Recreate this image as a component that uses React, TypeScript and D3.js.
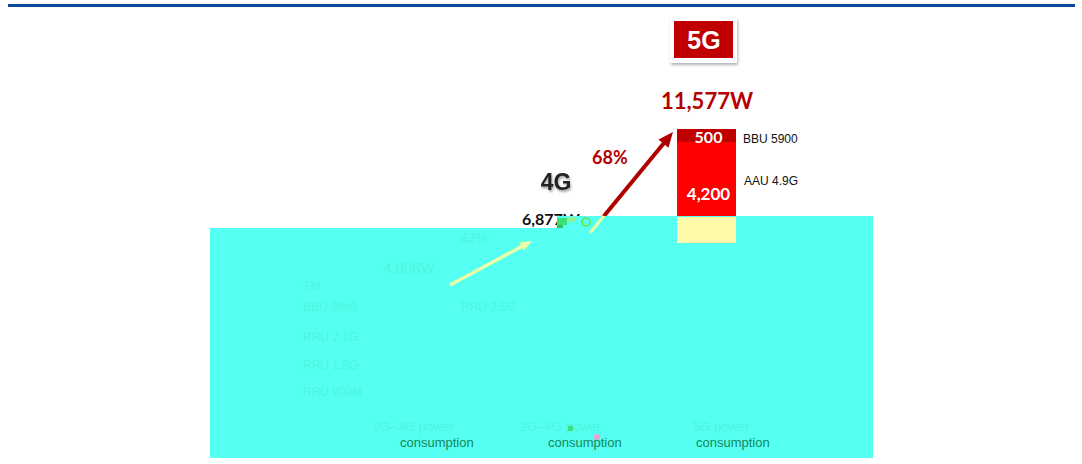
import React from 'react';
import * as d3 from 'd3';

// ---- data ----
const generations = ['2G–3G', '2G–4G', '5G'];
const powerLabels = ['2G–3G power', '2G–4G power', '5G power'];
const totals = [4808, 6877, 11577];
const growth = ['43%', '68%'];
const fiveGSegmentNames = ['BBU 5900', 'AAU 4.9G'];
const fiveGSegmentValues = [500, 4200];
const legacyComponents = ['TM', 'BBU 39x0', 'RRU 2.6G', 'RRU 2.1G', 'RRU 1.8G', 'RRU 900M'];

const W = 1082;
const H = 464;
const fmt = d3.format(',');

export default function App() {
  const x = d3.scalePoint<string>().domain(generations).range([437, 733]);
  const base = totals[1];
  const cum = [base, base + fiveGSegmentValues[1], base + fiveGSegmentValues[1] + fiveGSegmentValues[0]];
  const y = d3.scaleLinear().domain(cum).range([217, 142, 129]);
  const barX = (x('5G') as number) - 56;
  const barW = 59;

  const aauTop = y(base + fiveGSegmentValues[1]);
  const bbuTop = y(base + fiveGSegmentValues[1] + fiveGSegmentValues[0]);
  const baseY = y(base);

  const cyan = '#55fff2';
  const faint = '#4bf6de';
  const paleArrow = '#e8ffa6';
  const darkRed = '#b40000';

  const arrowHead = (x1: number, y1: number, x2: number, y2: number, len: number, wid: number) => {
    const a = Math.atan2(y2 - y1, x2 - x1);
    const bx = x2 - len * Math.cos(a);
    const by = y2 - len * Math.sin(a);
    const px = -Math.sin(a) * wid / 2;
    const py = Math.cos(a) * wid / 2;
    return `M${x2},${y2}L${bx + px},${by + py}L${bx - px},${by - py}Z`;
  };

  const line = d3.line();
  const rA: [number, number][] = [[590, 233], [673, 132]];
  const redLineEnd: [number, number] = [664, 143];
  const pA: [number, number][] = [[450, 285], [532, 241]];
  const cutT = (216 - rA[0][1]) / (rA[1][1] - rA[0][1]);
  const cutX = rA[0][0] + cutT * (rA[1][0] - rA[0][0]);

  const numFont = 'Lato, "Open Sans", sans-serif';
  const sans = '"Liberation Sans", Arial, sans-serif';

  const powerX = [373, 520, 693];
  const consX = [400, 548, 696];
  const legacyPos: [number, number][] = [[303, 290], [303, 311], [461, 311], [303, 341], [303, 369], [303, 396]];

  const overlay = 'M210,228 L557,228 L557,216 L873,216 L873,458 L210,458 Z';

  return (
    <svg width={W} height={H} style={{ position: 'absolute', left: 0, top: 0, background: '#fff' }}>
      <defs>
        <filter id="sh" x="-20%" y="-20%" width="140%" height="150%">
          <feDropShadow dx="1" dy="2" stdDeviation="1.5" floodColor="#000" floodOpacity="0.3" />
        </filter>
        <filter id="tsh" x="-20%" y="-20%" width="140%" height="150%">
          <feDropShadow dx="1" dy="2" stdDeviation="1" floodColor="#000" floodOpacity="0.35" />
        </filter>
      </defs>
      <rect x={0} y={0} width={W} height={H} fill="#fff" />
      <rect x={8} y={4} width={1067} height={3} fill="#0a4a9a" />

      {/* 5G badge */}
      <rect x={670} y={18} width={67} height={45} fill="#fff" filter="url(#sh)" />
      <rect x={674} y={21} width={59} height={37} fill="#c00000" />
      <text x={704} y={49} textAnchor="middle" fill="#fff" fontFamily={sans} fontWeight="bold" fontSize={25}>5G</text>

      <text x={707} y={109} textAnchor="middle" fill={darkRed} fontFamily={numFont} fontWeight="bold" fontSize={22}>{fmt(totals[2])}W</text>

      {/* 5G stacked bar */}
      <rect x={barX} y={bbuTop} width={barW} height={aauTop - bbuTop} fill="#c00000" />
      <rect x={barX} y={aauTop} width={barW} height={baseY - aauTop} fill="#ff0000" />
      <text x={barX + barW / 2 + 2} y={143} textAnchor="middle" fill="#fff" fontFamily={numFont} fontWeight="bold" fontSize={16}>{fmt(fiveGSegmentValues[0])}</text>
      <text x={barX + barW / 2 + 2} y={200} textAnchor="middle" fill="#fff" fontFamily={numFont} fontWeight="bold" fontSize={17}>{fmt(fiveGSegmentValues[1])}</text>
      <text x={743} y={143} fill="#111" fontFamily={sans} fontSize={12}>{fiveGSegmentNames[0]}</text>
      <text x={744} y={185} fill="#111" fontFamily={sans} fontSize={12}>{fiveGSegmentNames[1]}</text>

      {/* 4G label */}
      <text x={556} y={190} textAnchor="middle" fill="#222" fontFamily={sans} fontWeight="bold" fontSize={23} filter="url(#tsh)">4G</text>
      <text x={522} y={225} fill="#111" fontFamily={numFont} fontWeight="bold" fontSize={16}>{fmt(totals[1])}W</text>

      {/* red growth arrow */}
      <path d={line([rA[0], redLineEnd]) || ''} stroke="#b00000" strokeWidth={4} fill="none" />
      <path d={arrowHead(rA[0][0], rA[0][1], rA[1][0], rA[1][1], 15, 13)} fill="#b00000" />
      <text x={592} y={164} fill={darkRed} fontFamily={numFont} fontWeight="bold" fontSize={18}>{growth[1]}</text>

      {/* cyan overlay */}
      <path d={overlay} fill={cyan} />

      {/* yellow base of the 5G bar */}
      <rect x={barX} y={baseY} width={barW} height={26} fill="#fffaa8" />

      {/* glitch specks near 4G total */}
      <rect x={557} y={218} width={10} height={7} fill="#3ce07a" />
      <rect x={567} y={217} width={9} height={5} fill="#8af09a" />
      <rect x={557} y={225} width={6} height={3} fill="#30c060" />
      <circle cx={586} cy={222} r={4} fill="none" stroke="#6fe030" strokeWidth={1.5} />

      {/* arrows beneath overlay */}
      <path d={line([[rA[0][0], rA[0][1]], [cutX, 216]]) || ''} stroke={paleArrow} strokeWidth={3} fill="none" />
      <path d={line([pA[0], [pA[1][0] - 8, pA[1][1] + 4.3]]) || ''} stroke={paleArrow} strokeWidth={3.5} fill="none" />
      <path d={arrowHead(pA[0][0], pA[0][1], pA[1][0], pA[1][1], 12, 10)} fill={paleArrow} />

      {/* faint texts */}
      <text x={460} y={243} fill={faint} fontFamily={sans} fontSize={14}>{growth[0]}</text>
      <text x={383} y={273} fill={faint} fontFamily={sans} fontSize={15}>{fmt(totals[0])}W</text>
      {legacyComponents.map((c, i) => (
        <text key={c} x={legacyPos[i][0]} y={legacyPos[i][1]} fill={faint} fontFamily={sans} fontSize={12}>{c}</text>
      ))}
      {generations.map((g, i) => (
        <g key={g}>
          <text x={powerX[i]} y={431} fill={faint} fontFamily={sans} fontSize={13}>{powerLabels[i]}</text>
          <text x={consX[i]} y={447} fill="#14875a" fontFamily={sans} fontSize={13}>consumption</text>
        </g>
      ))}
      <rect x={568} y={426} width={5} height={5} fill="#3ce07a" />
      <circle cx={597} cy={437} r={3} fill="#f4a0c8" />
    </svg>
  );
}
